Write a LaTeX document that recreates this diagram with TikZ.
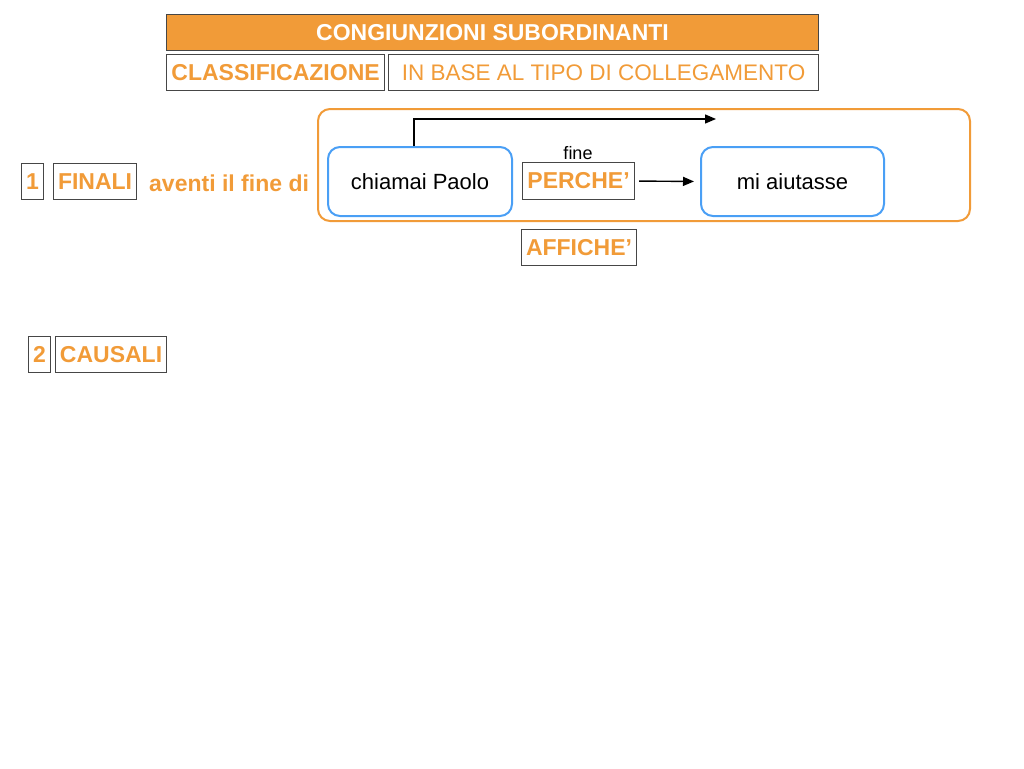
\documentclass[tikz,border=0pt]{standalone}
\usepackage{fontspec}
\setmainfont{Liberation Sans}
\usetikzlibrary{arrows.meta}
\definecolor{orng}{RGB}{241,155,56}
\definecolor{blu}{RGB}{74,159,245}
\definecolor{bord}{RGB}{70,70,70}
\tikzset{
  bx/.style={draw=bord,line width=1.1pt,inner sep=0pt,anchor=north west},
  otext/.style={text=orng,font=\fontsize{23}{27}\selectfont\bfseries},
  rtext/.style={text=orng,font=\fontsize{22.5}{27}\selectfont},
  clause/.style={draw=blu,line width=2pt,rounded corners=12pt,inner sep=0pt,anchor=north west,font=\fontsize{22}{26}\selectfont},
  arr/.style={line width=1.4pt,-{Triangle[length=11pt,width=9pt]}}
}
\begin{document}
\begin{tikzpicture}[x=1pt,y=-1pt]
\useasboundingbox (0,0) rectangle (1024,768);
% title
\node[bx,fill=orng,minimum width=652pt,minimum height=36pt,text=white,font=\fontsize{23}{27}\selectfont\bfseries] (title) at (166,14) {CONGIUNZIONI SUBORDINANTI};
\node[bx,otext,minimum width=218pt,minimum height=36pt] (classif) at (166,54) {CLASSIFICAZIONE};
\node[bx,rtext,minimum width=430pt,minimum height=36pt] (base) at (388,54) {IN BASE AL TIPO DI COLLEGAMENTO};
% row 1
\node[bx,otext,minimum width=22pt,minimum height=36pt] (n1) at (21,163) {1};
\node[bx,otext,minimum width=83pt,minimum height=36pt] (finali) at (53,163) {FINALI};
\node[otext,anchor=west,inner sep=0pt] (aventi) at (149,183) {aventi il fine di};
\draw[orng,line width=2pt,rounded corners=12pt] (318,109) rectangle (970,221);
\node[clause,minimum width=184pt,minimum height=69pt] (cp) at (327,146) {chiamai Paolo};
\node[clause,minimum width=183pt,minimum height=69pt] (mia) at (700,146) {mi aiutasse};
\node[bx,otext,minimum width=112pt,minimum height=37pt] (perche) at (522,162) {PERCHE’};
\node[font=\fontsize{18}{21}\selectfont,inner sep=0pt] (fine) at (578,153) {fine};
\node[bx,otext,minimum width=115pt,minimum height=36pt] (affiche) at (521,229) {AFFICHE’};
\coordinate (tip) at (716,119);
\draw[arr] ([xshift=-6pt]cp.north) |- (tip);
\draw[arr,shorten <=4pt,shorten >=6pt] (perche.east) -- (mia.west);
% row 2
\node[bx,otext,minimum width=22pt,minimum height=36pt] (n2) at (28,336) {2};
\node[bx,otext,minimum width=111pt,minimum height=36pt] (causali) at (55,336) {CAUSALI};
\end{tikzpicture}
\end{document}
